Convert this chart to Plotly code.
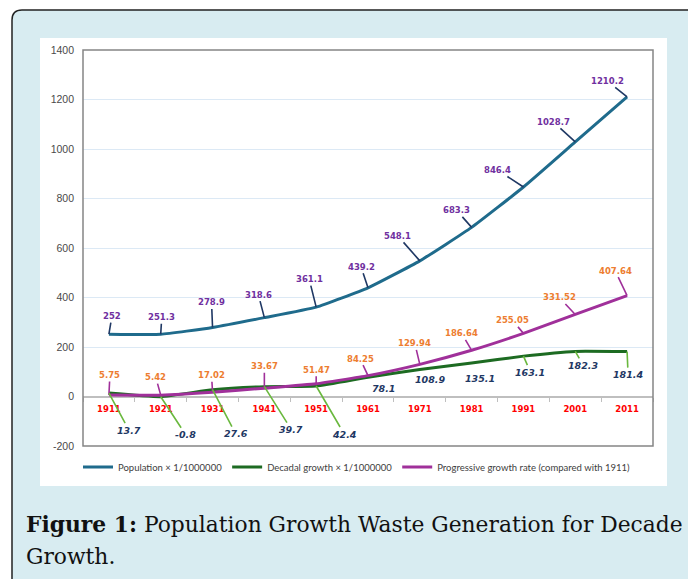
import plotly.graph_objects as go

years = ["1911", "1921", "1931", "1941", "1951", "1961", "1971", "1981", "1991", "2001", "2011"]
population = [252, 251.3, 278.9, 318.6, 361.1, 439.2, 548.1, 683.3, 846.4, 1028.7, 1210.2]
decadal = [13.7, -0.8, 27.6, 39.7, 42.4, 78.1, 108.9, 135.1, 163.1, 182.3, 181.4]
progressive = [5.75, 5.42, 17.02, 33.67, 51.47, 84.25, 129.94, 186.64, 255.05, 331.52, 407.64]
y_ticks = [-200, 0, 200, 400, 600, 800, 1000, 1200, 1400]

names = ["Population × 1/1000000", "Decadal growth × 1/1000000",
         "Progressive growth rate (compared with 1911)"]

# label offsets in pixels (text centre relative to point)
pop_off = [(3, -18), (1, -17), (-1, -25), (-6, -23), (-7, -28), (-7, -21),
           (-22, -25), (-15, -17), (-26, -17), (-22, -20), (-20, -16)]
prog_off = [(1, -20), (-5, -18), (-1, -17), (0, -22), (0, -14), (-8, -17),
            (-5, -21), (-10, -17), (-11, -13), (-16, -17), (-12, -25)]
dec_off = [(20, 37), (25, 38), (23, 44), (27, 43), (28, 48), (15, 11),
           (10, 10), (8, 15), (7, 16), (8, 14), (1, 23)]
dec_leader = [True, True, True, True, True, False, False, False, True, True, True]

W, H = 688, 579
ML, MR, MT, MB = 83, 35, 50, 133
PW, PH = W - ML - MR, H - MT - MB


def px(x):
    return (x - ML) / PW


def py(y):
    return (H - MB - y) / PH


C_POP = "#1f6b8c"
C_DEC = "#1d6b22"
C_PROG = "#a0309a"

fig = go.Figure()
fig.add_trace(go.Scatter(x=years, y=population, mode="lines", name=names[0],
                         line=dict(color=C_POP, width=3, shape="spline", smoothing=0.4)))
fig.add_trace(go.Scatter(x=years, y=decadal, mode="lines", name=names[1],
                         line=dict(color=C_DEC, width=3, shape="spline", smoothing=0.4)))
fig.add_trace(go.Scatter(x=years, y=progressive, mode="lines", name=names[2],
                         line=dict(color=C_PROG, width=3, shape="spline", smoothing=0.4)))

ann = []
for i, y in enumerate(years):
    ann.append(dict(x=i, y=population[i], xref="x", yref="y", text=f"{population[i]:g}",
                    showarrow=True, arrowhead=0, arrowwidth=1.6, arrowcolor="#1f3864",
                    ax=pop_off[i][0], ay=pop_off[i][1],
                    font=dict(family="DejaVu Sans", size=8.5, color="#7030a0", weight="bold")))
    ann.append(dict(x=i, y=progressive[i], xref="x", yref="y", text=f"{progressive[i]:g}",
                    showarrow=True, arrowhead=0, arrowwidth=1.6, arrowcolor=C_PROG,
                    ax=prog_off[i][0], ay=prog_off[i][1],
                    font=dict(family="DejaVu Sans", size=8.5, color="#ed7d31", weight="bold")))
    dfont = dict(family="DejaVu Sans", size=9.5, color="#1f3864", weight="bold", style="italic")
    if dec_leader[i]:
        ann.append(dict(x=i, y=decadal[i], xref="x", yref="y", text=f"{decadal[i]:g}",
                        showarrow=True, arrowhead=0, arrowwidth=1.6, arrowcolor="#6ab83e",
                        ax=dec_off[i][0], ay=dec_off[i][1], font=dfont))
    else:
        ann.append(dict(x=i, y=decadal[i], xref="x", yref="y", text=f"{decadal[i]:g}",
                        showarrow=False, xshift=dec_off[i][0], yshift=-dec_off[i][1],
                        font=dfont))

cap_font = dict(family="DejaVu Serif", size=21.8, color="#111111")
ann.append(dict(xref="paper", yref="paper", x=px(24), y=py(524), xanchor="left",
                yanchor="middle", showarrow=False,
                text="<b>Figure 1:</b> Population Growth Waste Generation for Decade",
                font=cap_font))
ann.append(dict(xref="paper", yref="paper", x=px(24), y=py(556), xanchor="left",
                yanchor="middle", showarrow=False, text="Growth.", font=cap_font))

rr = 10
frame_path = (f"M {px(12)},{py(600)} L {px(12)},{py(10 + rr)} "
              f"Q {px(12)},{py(10)} {px(12 + rr)},{py(10)} "
              f"L {px(720)},{py(10)} L {px(720)},{py(600)} Z")

shapes = [
    dict(type="path", xref="paper", yref="paper", path=frame_path,
         fillcolor="#d8ecf1", line=dict(color="#222222", width=1.5), layer="below"),
    dict(type="rect", xref="paper", yref="paper", x0=px(40), x1=px(667), y0=py(486), y1=py(38),
         fillcolor="white", line=dict(width=0), layer="below"),
    dict(type="rect", xref="paper", yref="paper", x0=0, x1=1, y0=0, y1=1,
         line=dict(color="#858585", width=1.5), layer="above"),
]

fig.update_layout(
    width=W, height=H,
    margin=dict(l=ML, r=MR, t=MT, b=MB),
    paper_bgcolor="white", plot_bgcolor="rgba(0,0,0,0)",
    showlegend=True,
    legend=dict(orientation="h", x=px(357), xanchor="center", y=py(467), yanchor="middle",
                font=dict(family="Lato", size=9.5, color="#404040"), bgcolor="rgba(0,0,0,0)",
                itemwidth=30),
    annotations=ann, shapes=shapes,
    xaxis=dict(type="category", range=[-0.5, 10.5], anchor="free",
               position=(0 - (-200)) / 1600, tickson="boundaries", ticks="outside",
               ticklen=4, tickcolor="#bfbfbf", showgrid=False, showline=False,
               tickfont=dict(family="DejaVu Sans", size=8.5, color="#ff0000", weight="bold"),
               ticklabelstandoff=6),
    yaxis=dict(range=[-200, 1400], tickvals=y_ticks, ticktext=[str(v) for v in y_ticks],
               showgrid=True, gridcolor="#dce9f5", gridwidth=1,
               zeroline=True, zerolinecolor="#bfbfbf", zerolinewidth=1.5, showline=False,
               tickfont=dict(family="Liberation Sans", size=10.5, color="#4a4a4a"),
               ticklabelstandoff=8),
)

fig.write_html("out.html")
